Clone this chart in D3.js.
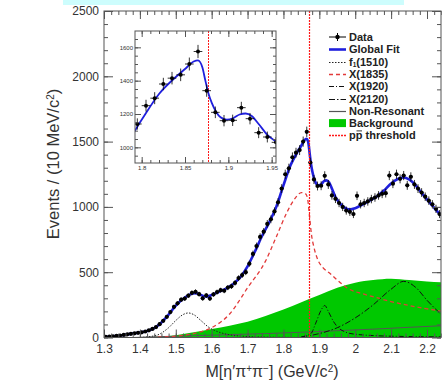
<!DOCTYPE html>
<html>
<head>
<meta charset="utf-8">
<script src="https://cdn.jsdelivr.net/npm/d3@7"></script>
<style>
body{margin:0;background:#fff;}
svg{display:block;font-family:"Liberation Sans",Arial,Helvetica,sans-serif;}
.tick text{fill:#333;}
</style>
</head>
<body>
<svg id="chart" width="442" height="390"></svg>
<script>
// 数据: 10 MeV 一个 bin, 从 1.305 开始
var counts=[5,6,8,12,15,20,24,28,32,36,
    40,46,55,66,80,102,128,158,195,235,
    262,290,298,320,342,350,332,300,322,298,
    330,348,362,358,382,392,418,455,478,500,
    565,640,700,770,810,870,905,965,1035,1140,
    1250,1295,1380,1415,1435,1500,1575,1340,1210,1160,
    1162,1238,1172,1088,1062,1030,1000,972,962,945,
    1085,1020,1030,1042,1060,1072,1088,1100,1105,1240,
    1178,1250,1215,1240,1165,1230,1172,1140,1110,1078,
    1048,1020,985,945];
var massBins=counts.map(function(d,i){return +(1.305+i*0.01).toFixed(3);});

// 全局拟合曲线 [mass, events]
var globalFit=[[1.30,3],[1.32,8],[1.34,14],[1.36,22],[1.38,30],[1.40,38],[1.42,50],[1.44,72],
    [1.46,115],[1.48,175],[1.50,245],[1.52,295],[1.54,330],[1.555,340],[1.57,325],[1.585,313],
    [1.60,325],[1.62,350],[1.64,375],[1.66,410],[1.68,462],[1.70,545],[1.72,655],[1.74,775],
    [1.76,880],[1.78,1000],[1.80,1165],[1.82,1320],[1.84,1425],[1.85,1470],[1.86,1515],[1.865,1522],
    [1.87,1480],[1.8735,1400],[1.877,1325],[1.881,1265],[1.886,1212],[1.891,1180],[1.898,1166],
    [1.906,1176],[1.913,1197],[1.92,1203],[1.927,1188],[1.935,1140],[1.945,1075],[1.955,1035],
    [1.97,995],[1.985,980],[2.0,990],[2.02,1018],[2.04,1048],[2.06,1080],[2.08,1125],[2.10,1180],
    [2.12,1215],[2.135,1225],[2.15,1210],[2.17,1160],[2.19,1090],[2.21,1025],[2.23,962],[2.24,935]];
var f1510=[[1.40,0],[1.43,8],[1.45,20],[1.48,75],[1.50,130],[1.52,175],[1.535,188],[1.55,175],
    [1.57,130],[1.59,82],[1.61,52],[1.64,26],[1.68,11],[1.75,3],[1.85,0]];
var x1835=[[1.45,3],[1.50,10],[1.55,30],[1.60,75],[1.65,180],[1.70,380],[1.75,585],[1.78,770],
    [1.81,960],[1.835,1075],[1.85,1110],[1.862,1100],[1.868,1050],[1.873,920],[1.878,790],
    [1.885,690],[1.895,600],[1.91,535],[1.93,490],[1.95,440],[1.98,375],[2.02,335],[2.06,305],
    [2.10,275],[2.15,245],[2.20,220],[2.24,202]];
var x1920=[[1.85,5],[1.8765,30],[1.89,110],[1.905,210],[1.915,245],[1.925,200],[1.94,120],
    [1.955,70],[1.97,45],[2.0,25],[2.1,10],[2.24,5]];
var x2120=[[1.85,5],[1.9,30],[1.95,75],[2.0,150],[2.05,250],[2.1,370],[2.135,430],[2.17,380],
    [2.2,285],[2.24,175]];
var nonRes=[[1.38,0],[1.45,6],[1.55,14],[1.65,22],[1.75,30],[1.85,40],[1.95,52],[2.05,64],
    [2.15,78],[2.24,90]];
var background=[[1.38,0],[1.45,5],[1.50,18],[1.55,40],[1.60,65],[1.65,90],[1.70,120],[1.75,165],
    [1.80,215],[1.85,270],[1.90,325],[1.95,380],[2.0,420],[2.05,440],[2.10,450],[2.15,440],
    [2.20,428],[2.24,422]];
var ppThreshold=1.8765;

var yTicks=[0,500,1000,1500,2000,2500];
var xTicks=[1.3,1.4,1.5,1.6,1.7,1.8,1.9,2,2.1,2.2];
var insetXTicks=[1.8,1.85,1.9,1.95];
var insetYTicks=[1000,1200,1400,1600];

var legendItems=["Data","Global Fit","f1(1510)","X(1835)","X(1920)","X(2120)","Non-Resonant","Background","pp threshold"];

var svg=d3.select("#chart");
var fitColor="#1f1fdd",green="#00c800",red="#e23a3a",thrColor="#ff1a1a";

// 顶部的浅蓝色条
svg.append("rect").attr("x",63).attr("y",0).attr("width",341).attr("height",5).attr("fill","#cdfdfd");

//主图比例尺
var pL=104,pR=441,pT=11,pB=337.5;
var x=d3.scaleLinear().domain([1.3,2.239]).range([pL,pR]);
var y=d3.scaleLinear().domain([0,2500]).range([pB,pT]);

var defs=svg.append("defs");
defs.append("clipPath").attr("id","mainClip").append("rect")
    .attr("x",pL).attr("y",pT).attr("width",pR-pL).attr("height",pB-pT);
var plot=svg.append("g").attr("clip-path","url(#mainClip)");

var line=d3.line().x(function(d){return x(d[0]);}).y(function(d){return y(d[1]);}).curve(d3.curveMonotoneX);
var area=d3.area().x(function(d){return x(d[0]);}).y0(y(0)).y1(function(d){return y(d[1]);}).curve(d3.curveMonotoneX);

plot.append("path").datum(background).attr("d",area).attr("fill",green);
plot.append("path").datum(nonRes).attr("d",line).attr("fill","none").attr("stroke","#555").attr("stroke-width",1);
plot.append("path").datum(f1510).attr("d",line).attr("fill","none").attr("stroke","#222").attr("stroke-width",1).attr("stroke-dasharray","1.5,1.5");
plot.append("path").datum(x1835).attr("d",line).attr("fill","none").attr("stroke",red).attr("stroke-width",1.3).attr("stroke-dasharray","4,3");
plot.append("path").datum(x1920).attr("d",line).attr("fill","none").attr("stroke","#111").attr("stroke-width",1).attr("stroke-dasharray","5,2,1,2");
plot.append("path").datum(x2120).attr("d",line).attr("fill","none").attr("stroke","#111").attr("stroke-width",1).attr("stroke-dasharray","6,2,1.5,2");
plot.append("path").datum(globalFit).attr("d",line).attr("fill","none").attr("stroke",fitColor).attr("stroke-width",2.6);

function drawData(g,xs,ys,r,w){
    var pts=g.selectAll("g.pt").data(counts.map(function(c,i){return {m:massBins[i],v:c,e:Math.sqrt(c)};}))
        .enter().append("g").attr("class","pt");
    pts.append("line").attr("x1",function(d){return xs(d.m);}).attr("x2",function(d){return xs(d.m);})
        .attr("y1",function(d){return ys(d.v-d.e);}).attr("y2",function(d){return ys(d.v+d.e);})
        .attr("stroke","#000").attr("stroke-width",w);
    pts.append("line").attr("x1",function(d){return xs(d.m-0.005);}).attr("x2",function(d){return xs(d.m+0.005);})
        .attr("y1",function(d){return ys(d.v);}).attr("y2",function(d){return ys(d.v);})
        .attr("stroke","#000").attr("stroke-width",w);
    pts.append("circle").attr("cx",function(d){return xs(d.m);}).attr("cy",function(d){return ys(d.v);})
        .attr("r",r).attr("fill","#000");
}
drawData(plot,x,y,2.1,0.8);

// pp 阈值竖线, 画在最上层
var thrX=Math.floor(x(ppThreshold))-0.5;
svg.append("path").attr("d","M"+thrX+","+pT+"V"+pB)
    .attr("fill","none").attr("stroke",thrColor).attr("stroke-width",1.2).attr("stroke-dasharray","2,1");

//坐标轴
function styleAxis(g){
    g.select(".domain").remove();
    g.selectAll(".tick line").attr("stroke","#555");
}
var intFmt=d3.format("d");
svg.append("g").attr("transform","translate("+pL+",0)")
    .call(d3.axisLeft(y).tickValues(d3.range(0,2501,100)).tickSize(-4).tickFormat("")).call(styleAxis);
svg.append("g").attr("transform","translate("+pL+",0)")
    .call(d3.axisLeft(y).tickValues(yTicks).tickSize(-9).tickPadding(5).tickFormat(intFmt)).call(styleAxis)
    .selectAll("text").attr("font-size",12).attr("font-family","Liberation Sans,Arial");
svg.append("g").attr("transform","translate("+pR+",0)")
    .call(d3.axisRight(y).tickValues(d3.range(0,2501,100)).tickSize(-4).tickFormat("")).call(styleAxis);
svg.append("g").attr("transform","translate("+pR+",0)")
    .call(d3.axisRight(y).tickValues(yTicks).tickSize(-9).tickFormat("")).call(styleAxis);
var minorX=d3.range(65,113).map(function(i){return i*0.02;});
svg.append("g").attr("transform","translate(0,"+pT+")")
    .call(d3.axisTop(x).tickValues(minorX).tickSize(-4).tickFormat("")).call(styleAxis);
svg.append("g").attr("transform","translate(0,"+pT+")")
    .call(d3.axisTop(x).tickValues(xTicks).tickSize(-8).tickFormat("")).call(styleAxis);
svg.append("g").attr("transform","translate(0,"+pB+")")
    .call(d3.axisBottom(x).tickValues(minorX).tickSize(-4).tickFormat("")).call(styleAxis);
svg.append("g").attr("transform","translate(0,"+pB+")")
    .call(d3.axisBottom(x).tickValues(xTicks).tickSize(-8).tickPadding(7).tickFormat(d3.format("~g"))).call(styleAxis)
    .selectAll("text").attr("font-size",12).attr("font-family","Liberation Sans,Arial");
svg.append("rect").attr("x",pL).attr("y",pT).attr("width",pR-pL).attr("height",pB-pT)
    .attr("fill","none").attr("stroke","#555").attr("stroke-width",1);

//轴标题
var xt=svg.append("text").attr("x",272).attr("y",377).attr("text-anchor","middle").attr("font-size",16).attr("fill","#333");
xt.append("tspan").text("M[η′π");
xt.append("tspan").attr("baseline-shift","super").attr("font-size",10).text("+");
xt.append("tspan").text("π");
xt.append("tspan").attr("baseline-shift","super").attr("font-size",10).text("−");
xt.append("tspan").text("] (GeV/c");
xt.append("tspan").attr("baseline-shift","super").attr("font-size",10).text("2");
xt.append("tspan").text(")");
var yt=svg.append("text").attr("transform","translate(59,164) rotate(-90)").attr("text-anchor","middle").attr("font-size",16.5).attr("fill","#333");
yt.append("tspan").text("Events / (10 MeV/c");
yt.append("tspan").attr("baseline-shift","super").attr("font-size",10).text("2");
yt.append("tspan").text(")");

//图例
var legend=svg.append("g");
var ly0=37,lstep=12.3,lx1=329,lx2=346;
var legendStyles=[null,[fitColor,2.6,null],["#222",1,"1.5,1.5"],[red,1.3,"4,3"],["#111",1,"5,2,1,2"],["#111",1,"6,2,1.5,2"],["#555",1.2,null],null,[thrColor,1.4,"2,1"]];
legendItems.forEach(function(name,i){
    var ly=ly0+i*lstep;
    var g=legend.append("g");
    if(i==0){
        g.append("line").attr("x1",lx1).attr("x2",lx2).attr("y1",ly).attr("y2",ly).attr("stroke","#000").attr("stroke-width",1);
        g.append("line").attr("x1",(lx1+lx2)/2).attr("x2",(lx1+lx2)/2).attr("y1",ly-4).attr("y2",ly+4).attr("stroke","#000").attr("stroke-width",1);
        g.append("circle").attr("cx",(lx1+lx2)/2).attr("cy",ly).attr("r",2.2).attr("fill","#000");
    }else if(i==7){
        g.append("rect").attr("x",lx1).attr("y",ly-4).attr("width",lx2-lx1).attr("height",8).attr("fill",green);
    }else{
        var st=legendStyles[i];
        var yy=Math.round(ly)+0.5;
        g.append("path").attr("d","M"+lx1+","+yy+"H"+lx2).attr("fill","none")
            .attr("stroke",st[0]).attr("stroke-width",st[1]).attr("stroke-dasharray",st[2]);
    }
    var t=g.append("text").attr("x",349).attr("y",ly+4).attr("font-size",11).attr("font-weight","bold").attr("fill","#222");
    if(i==2){
        t.append("tspan").text("f");
        t.append("tspan").attr("dy",1.5).attr("font-size",6.5).text("1");
        t.append("tspan").attr("dy",-1.5).text("(1510)");
    }else if(i==8){
        t.text(name);
        g.append("line").attr("x1",356.5).attr("x2",362).attr("y1",ly-4.5).attr("y2",ly-4.5).attr("stroke","#222").attr("stroke-width",0.9);
    }else{
        t.text(name);
    }
});

//插图
var il=135,ir=276,it=31,ib=163;
var xi=d3.scaleLinear().domain([1.7923,1.955]).range([il,ir]);
var yi=d3.scaleLinear().domain([906,1698]).range([ib,it]);
svg.append("rect").attr("x",il).attr("y",it).attr("width",ir-il).attr("height",ib-it).attr("fill","#fff");
defs.append("clipPath").attr("id","insetClip").append("rect")
    .attr("x",il).attr("y",it).attr("width",ir-il).attr("height",ib-it);
var inset=svg.append("g").attr("clip-path","url(#insetClip)");
inset.append("line").attr("x1",Math.round(xi(ppThreshold))+0.5).attr("x2",Math.round(xi(ppThreshold))+0.5).attr("y1",it).attr("y2",ib)
    .attr("stroke",thrColor).attr("stroke-width",1).attr("stroke-dasharray","2,1");
var lineI=d3.line().x(function(d){return xi(d[0]);}).y(function(d){return yi(d[1]);}).curve(d3.curveMonotoneX);
inset.append("path").datum(globalFit).attr("d",lineI).attr("fill","none").attr("stroke",fitColor).attr("stroke-width",1.8);
drawData(inset,xi,yi,2,0.8);

var insetMinorX=d3.range(180,196).map(function(i){return i*0.01;});
var insetMinorY=d3.range(19,34).map(function(i){return i*50;});
svg.append("g").attr("transform","translate(0,"+ib+")")
    .call(d3.axisBottom(xi).tickValues(insetMinorX).tickSize(-3).tickFormat("")).call(styleAxis);
svg.append("g").attr("transform","translate(0,"+ib+")")
    .call(d3.axisBottom(xi).tickValues(insetXTicks).tickSize(-6).tickPadding(3).tickFormat(d3.format("~g"))).call(styleAxis)
    .selectAll("text").attr("font-size",6).attr("font-family","Liberation Sans,Arial");
svg.append("g").attr("transform","translate(0,"+it+")")
    .call(d3.axisTop(xi).tickValues(insetMinorX).tickSize(-3).tickFormat("")).call(styleAxis);
svg.append("g").attr("transform","translate(0,"+it+")")
    .call(d3.axisTop(xi).tickValues(insetXTicks).tickSize(-6).tickFormat("")).call(styleAxis);
svg.append("g").attr("transform","translate("+il+",0)")
    .call(d3.axisLeft(yi).tickValues(insetMinorY).tickSize(-3).tickFormat("")).call(styleAxis);
svg.append("g").attr("transform","translate("+il+",0)")
    .call(d3.axisLeft(yi).tickValues(insetYTicks).tickSize(-6).tickPadding(2).tickFormat(intFmt)).call(styleAxis)
    .selectAll("text").attr("font-size",6).attr("font-family","Liberation Sans,Arial");
svg.append("g").attr("transform","translate("+ir+",0)")
    .call(d3.axisRight(yi).tickValues(insetMinorY).tickSize(-3).tickFormat("")).call(styleAxis);
svg.append("g").attr("transform","translate("+ir+",0)")
    .call(d3.axisRight(yi).tickValues(insetYTicks).tickSize(-6).tickFormat("")).call(styleAxis);
svg.append("rect").attr("x",il).attr("y",it).attr("width",ir-il).attr("height",ib-it)
    .attr("fill","none").attr("stroke","#555").attr("stroke-width",1);
</script>
</body>
</html>
